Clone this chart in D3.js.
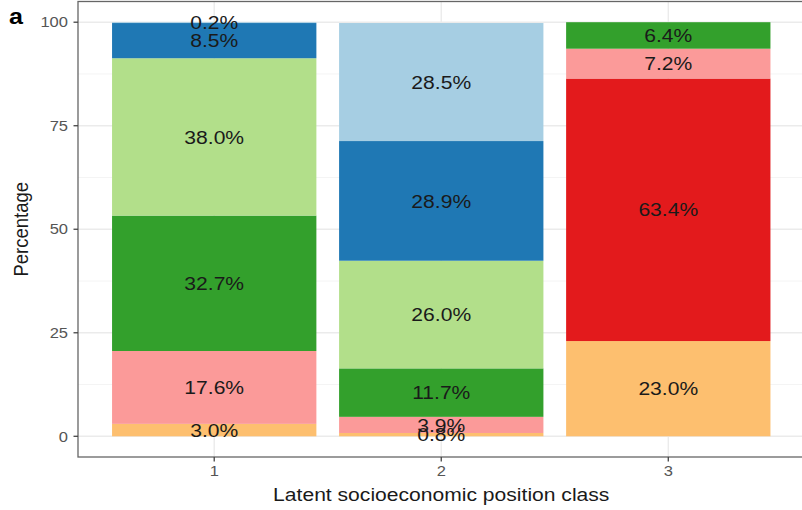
<!DOCTYPE html>
<html>
<head>
<meta charset="utf-8">
<script src="https://cdn.jsdelivr.net/npm/d3@7"></script>
<style>
  html, body { margin: 0; padding: 0; background: #fff; }
  svg { display: block; font-family: "Liberation Sans", Arial, sans-serif; }
</style>
</head>
<body>
<svg id="chart" width="802" height="510"></svg>
<script>
// Latent socioeconomic position classes
const classes = ["1", "2", "3"];

// Stack order, bottom to top, with Paired palette colours
const groups  = ["g7", "g6", "g5", "g4", "g3", "g2", "g1"];
const colours = ["#FDBF6F", "#E31A1C", "#FB9A99", "#33A02C", "#B2DF8A", "#1F78B4", "#A6CEE3"];

// Percentages per class, bottom to top (same order as groups)
const class1 = [3.0, 0, 17.6, 32.7, 38.0, 8.5, 0.2];
const class2 = [0.8, 0, 3.9, 11.7, 26.0, 28.9, 28.5];
const class3 = [23.0, 63.4, 7.2, 6.4, 0, 0, 0];

const yTicks = [0, 25, 50, 75, 100];

// Text in this figure is set slightly wide
const SX = 1.14;

const svg = d3.select("#chart");
const panel = { left: 78, top: 1.5, right: 804.5, bottom: 457 };

const x = d3.scaleLinear().domain([0.4, 3.6]).range([panel.left, panel.right]);
const y = d3.scaleLinear().domain([-5, 105]).range([panel.bottom, panel.top]);
const barWidth = x(1.45) - x(0.55);

// Place a text at (px, py) with the horizontal widening applied
function place(sel, px, py) {
  return sel.attr("transform", (d, i) =>
    `translate(${typeof px === "function" ? px(d, i) : px},${typeof py === "function" ? py(d, i) : py}) scale(${SX},1)`);
}

// Gridlines
const g = svg.append("g");
const minor = [12.5, 37.5, 62.5, 87.5];
g.selectAll(".minor").data(minor).join("line")
  .attr("x1", panel.left).attr("x2", panel.right)
  .attr("y1", d => y(d)).attr("y2", d => y(d))
  .attr("stroke", "#F4F4F4").attr("stroke-width", 1);
g.selectAll(".majorY").data(yTicks).join("line")
  .attr("x1", panel.left).attr("x2", panel.right)
  .attr("y1", d => y(d)).attr("y2", d => y(d))
  .attr("stroke", "#EBEBEB").attr("stroke-width", 1.4);
g.selectAll(".majorX").data(classes).join("line")
  .attr("x1", d => x(+d)).attr("x2", d => x(+d))
  .attr("y1", panel.top).attr("y2", panel.bottom)
  .attr("stroke", "#EBEBEB").attr("stroke-width", 1.4);

// Build stacked segments
const table = [class1, class2, class3];
const segments = [];
table.forEach((vals, i) => {
  let base = 0;
  vals.forEach((v, k) => {
    if (v > 0) {
      segments.push({ cls: classes[i], y0: base, y1: base + v, value: v, colour: colours[k] });
    }
    base += v;
  });
});

const bars = svg.append("g");
bars.selectAll("rect").data(segments).join("rect")
  .attr("x", d => x(+d.cls) - barWidth / 2)
  .attr("width", barWidth)
  .attr("y", d => y(d.y1))
  .attr("height", d => y(d.y0) - y(d.y1))
  .attr("fill", d => d.colour);

place(bars.selectAll("text").data(segments).join("text"),
      d => x(+d.cls), d => y((d.y0 + d.y1) / 2))
  .attr("dy", "0.36em")
  .attr("text-anchor", "middle")
  .attr("font-size", 18.5)
  .attr("fill", "#1a1a1a")
  .text(d => d.value.toFixed(1) + "%");

// Panel border
svg.append("rect")
  .attr("x", panel.left).attr("y", panel.top)
  .attr("width", panel.right - panel.left).attr("height", panel.bottom - panel.top)
  .attr("fill", "none").attr("stroke", "#666").attr("stroke-width", 1.3);

// Y axis
const yAxis = svg.append("g");
yAxis.selectAll("line").data(yTicks).join("line")
  .attr("x1", panel.left - 4.5).attr("x2", panel.left)
  .attr("y1", d => y(d)).attr("y2", d => y(d))
  .attr("stroke", "#444").attr("stroke-width", 1.3);
place(yAxis.selectAll("text").data(yTicks).join("text"), panel.left - 10, d => y(d))
  .attr("dy", "0.36em").attr("text-anchor", "end")
  .attr("font-size", 14.5).attr("fill", "#555")
  .text(d => d);

// X axis
const xAxis = svg.append("g");
xAxis.selectAll("line").data(classes).join("line")
  .attr("x1", d => x(+d)).attr("x2", d => x(+d))
  .attr("y1", panel.bottom).attr("y2", panel.bottom + 4.5)
  .attr("stroke", "#444").attr("stroke-width", 1.3);
place(xAxis.selectAll("text").data(classes).join("text"), d => x(+d), panel.bottom + 19)
  .attr("text-anchor", "middle")
  .attr("font-size", 14.5).attr("fill", "#555")
  .text(d => d);

// Axis titles
place(svg.append("text"), x(2), 501)
  .attr("text-anchor", "middle").attr("font-size", 18.5).attr("fill", "#1a1a1a")
  .text("Latent socioeconomic position class");
svg.append("text")
  .attr("transform", `translate(28,${y(50)}) rotate(-90) scale(1,${SX})`)
  .attr("text-anchor", "middle").attr("font-size", 18.5).attr("fill", "#1a1a1a")
  .text("Percentage");

// Panel tag
place(svg.append("text"), 9, 24)
  .attr("font-size", 22).attr("font-weight", "bold").attr("fill", "#000")
  .text("a");
</script>
</body>
</html>
